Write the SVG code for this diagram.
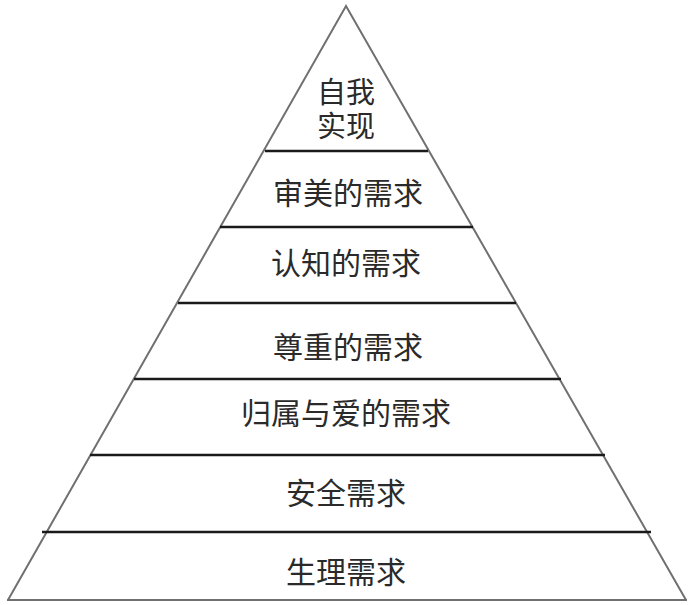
<svg xmlns="http://www.w3.org/2000/svg" width="693" height="605" viewBox="0 0 693 605">
<style>
.edge{stroke:#707070;stroke-width:2;fill:none}
.div{stroke:#1a1a1a;stroke-width:2.5}
.lbl{font-family:"Liberation Sans","Noto Sans CJK SC",sans-serif;font-size:30px;fill:#2a2a2a;text-anchor:middle;dominant-baseline:central}
</style>
<rect width="693" height="605" fill="#ffffff"/>
<g id="connectors">
<polyline class="edge" points="8,600 346,6 686,600"/>
<line class="edge" x1="7" y1="600" x2="687" y2="600" stroke="#8a8a8a"/>
<line class="div" x1="265" y1="151" x2="428" y2="151"/>
<line class="div" x1="220" y1="227" x2="473" y2="227"/>
<line class="div" x1="178" y1="303" x2="516" y2="303"/>
<line class="div" x1="134" y1="379" x2="561" y2="379"/>
<line class="div" x1="90" y1="455" x2="605" y2="455"/>
<line class="div" x1="42" y1="532" x2="651" y2="532"/>
</g>
<g id="level7"><text class="lbl" x="346" y="93" style="font-size:29px">自我</text><text class="lbl" x="346" y="127" style="font-size:29px">实现</text></g>
<g id="level6"><text class="lbl" x="348" y="193">审美的需求</text></g>
<g id="level5"><text class="lbl" x="346" y="263">认知的需求</text></g>
<g id="level4"><text class="lbl" x="348" y="347">尊重的需求</text></g>
<g id="level3"><text class="lbl" x="346" y="413">归属与爱的需求</text></g>
<g id="level2"><text class="lbl" x="346" y="493">安全需求</text></g>
<g id="level1"><text class="lbl" x="346" y="572">生理需求</text></g>
</svg>
